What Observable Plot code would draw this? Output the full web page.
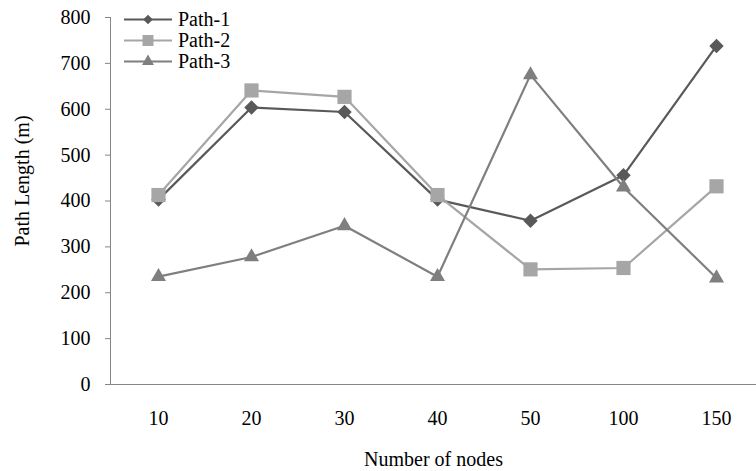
<!DOCTYPE html>
<html>
<head>
<meta charset="utf-8">
<script src="https://cdn.jsdelivr.net/npm/d3@7"></script>
<script src="https://cdn.jsdelivr.net/npm/@observablehq/plot@0.6"></script>
<style>
  html, body { margin: 0; padding: 0; background: #fff; }
  #wrap { position: relative; width: 756px; height: 471px; font-family: "Liberation Serif", serif; }
  #legend { position: absolute; left: 122px; top: 9px; font-size: 20px; color: #000; font-family: "Liberation Serif", serif; }
  #legend .row { display: flex; align-items: center; height: 21px; }
  #legend span { font-family: "Liberation Serif", serif; }
  #legend svg { display: block; margin-right: 4px; }
</style>
</head>
<body>
<div id="wrap"><div id="legend"></div></div>
<script>
const nodes = ["10", "20", "30", "40", "50", "100", "150"];
const path1 = [403, 604, 594, 403, 357, 456, 738];
const path2 = [413, 641, 627, 413, 251, 254, 432];
const path3 = [235, 278, 346, 235, 675, 430, 232];
const seriesNames = ["Path-1", "Path-2", "Path-3"];
const seriesColors = ["#595959", "#a6a6a6", "#7f7f7f"];
const seriesSymbols = ["diamond2", "square", "triangle"];
const yTicks = [0, 100, 200, 300, 400, 500, 600, 700, 800];
const xTitle = "Number of nodes";
const yTitle = "Path Length (m)";

const seriesValues = [path1, path2, path3];
const data = [];
seriesNames.forEach((s, i) => nodes.forEach((n, j) => data.push({series: s, nodes: n, value: seriesValues[i][j]})));
const markerR = {"Path-1": 6.5, "Path-2": 8, "Path-3": 5.6};

const chart = Plot.plot({
  width: 756,
  height: 471,
  marginLeft: 110,
  marginRight: 0,
  marginTop: 17,
  marginBottom: 87,
  style: {fontFamily: "'Liberation Serif', serif", fontSize: "20px", color: "#000", background: "#fff"},
  x: {type: "point", domain: nodes, range: [156, 718], padding: 0},
  y: {domain: [0, 800]},
  color: {domain: seriesNames, range: seriesColors},
  symbol: {domain: seriesNames, range: seriesSymbols},
  marks: [
    Plot.frame({anchor: "left", stroke: "#868686", strokeOpacity: 1}),
    Plot.frame({anchor: "bottom", stroke: "#868686", strokeOpacity: 1}),
    Plot.axisY({ticks: yTicks, tickSize: 5, tickPadding: 15, stroke: "#868686", strokeOpacity: 1, fill: "#000", label: null}),
    Plot.text([yTitle], {frameAnchor: "left", textAnchor: "middle", rotate: -90, dx: -88, dy: -20, fill: "#000", fontSize: 20}),
    Plot.axisX({tickSize: 0, tickPadding: 26, fill: "#000",
      label: xTitle, labelAnchor: "center", labelArrow: "none", labelOffset: 81}),
    Plot.line(data, {x: "nodes", y: "value", z: "series", stroke: "series", strokeWidth: 2.2}),
    ...seriesNames.map(s => Plot.dot(data.filter(d => d.series === s),
      {x: "nodes", y: "value", fill: "series", symbol: "series", r: markerR[s], stroke: "none"}))
  ]
});
document.getElementById("wrap").prepend(chart);

// Legend
const legendSize = {"Path-1": 60, "Path-2": 120, "Path-3": 62};
const legend = d3.select("#legend");
seriesNames.forEach((s, i) => {
  const row = legend.append("div").attr("class", "row");
  const svg = row.append("svg").attr("width", 52).attr("height", 21);
  svg.append("line").attr("x1", 2).attr("x2", 50).attr("y1", 10.5).attr("y2", 10.5)
    .attr("stroke", seriesColors[i]).attr("stroke-width", 2.2);
  const sym = {diamond2: d3.symbolDiamond2, square: d3.symbolSquare, triangle: d3.symbolTriangle}[seriesSymbols[i]];
  svg.append("path").attr("transform", "translate(26,10.5)")
    .attr("d", d3.symbol(sym, legendSize[s])()).attr("fill", seriesColors[i]);
  row.append("span").text(s);
});
</script>
</body>
</html>
